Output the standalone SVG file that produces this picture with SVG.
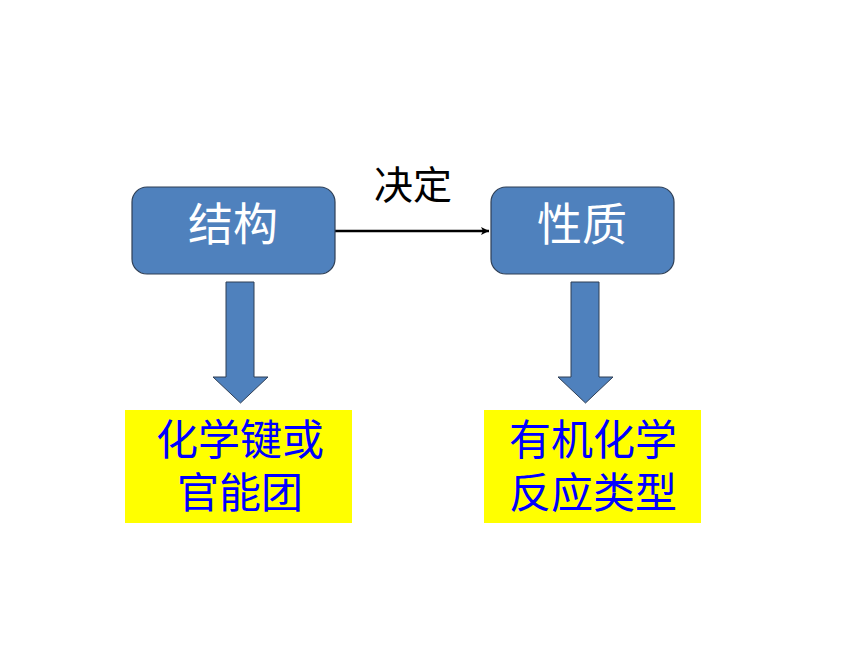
<svg xmlns="http://www.w3.org/2000/svg" width="860" height="645" viewBox="0 0 860 645">
<style>
.box{fill:#4F81BD;stroke:#2F3F55;stroke-width:1.2}
.blk{fill:#4F81BD;stroke:#2F3F55;stroke-width:1}
.wt{fill:#FFFFFF;font-family:"Noto Sans CJK SC","Noto Sans",sans-serif;font-size:45px;text-anchor:middle}
.yb{fill:#FFFF00}
.bt{fill:#0000FF;font-family:"Noto Sans CJK SC","Noto Sans",sans-serif;font-size:42px;text-anchor:middle}
.lbl{fill:#000000;font-family:"Liberation Serif","Noto Sans CJK SC",serif;font-size:39px;text-anchor:middle}
.ln{stroke:#000;stroke-width:2.6;fill:none}
</style>
<defs>
<marker id="ah" markerWidth="10" markerHeight="10" refX="8" refY="5" orient="auto" markerUnits="userSpaceOnUse">
<path d="M0,1 L8,5 L0,9 L2,5 Z" fill="#000"/>
</marker>
</defs>
<rect width="860" height="645" fill="#FFFFFF"/>
<g id="connectors">
<line class="ln" x1="335" y1="231" x2="489" y2="231" marker-end="url(#ah)"/>
<text class="lbl" x="413" y="199">决定</text>
<polygon class="blk" points="226,282 254,282 254,377 268,377 240.5,403 213,377 226,377"/>
<polygon class="blk" points="571,282 599,282 599,377 613,377 585.5,403 558,377 571,377"/>
</g>
<g id="node-structure">
<rect class="box" x="132" y="187" width="203" height="87" rx="15" ry="15"/>
<text class="wt" x="233" y="241">结构</text>
</g>
<g id="node-property">
<rect class="box" x="491" y="187" width="183" height="87" rx="15" ry="15"/>
<text class="wt" x="582" y="241">性质</text>
</g>
<g id="node-bond">
<rect class="yb" x="125" y="410" width="227" height="113"/>
<text class="bt" x="240" y="455">化学键或</text>
<text class="bt" x="240" y="508">官能团</text>
</g>
<g id="node-reaction">
<rect class="yb" x="484" y="410" width="217" height="113"/>
<text class="bt" x="593" y="455">有机化学</text>
<text class="bt" x="593" y="508">反应类型</text>
</g>
</svg>
